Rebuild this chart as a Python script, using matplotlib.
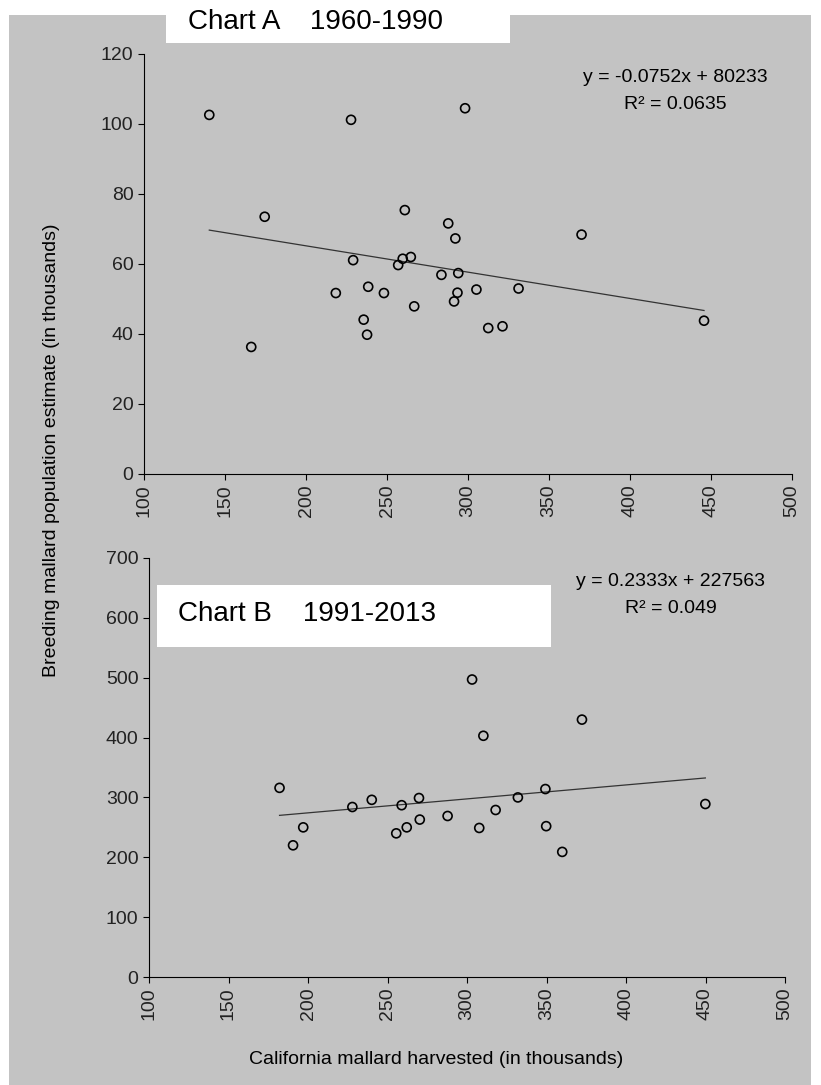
import numpy as np
import matplotlib
matplotlib.use('Agg')
import matplotlib.pyplot as plt
from matplotlib.patches import Rectangle

plt.rcParams['font.family'] = ['Liberation Sans', 'DejaVu Sans']

# Chart A 1960-1990 (thousands)
a_harvest = [140.3, 227.8, 298.2, 174.5, 261.0, 287.8, 292.2, 370.1, 229.1, 256.9,
             259.7, 264.7, 283.6, 294.0, 218.4, 238.4, 248.1, 266.8, 293.5, 291.4,
             305.2, 331.2, 235.6, 237.7, 166.2, 312.5, 321.3, 445.7]
a_breeding = [102.6, 101.2, 104.5, 73.5, 75.4, 71.6, 67.3, 68.4, 61.1, 59.7,
              61.5, 62.0, 56.9, 57.4, 51.7, 53.5, 51.7, 47.9, 51.8, 49.3,
              52.7, 53.0, 44.1, 39.8, 36.3, 41.7, 42.2, 43.8]
a_slope, a_icpt = -0.0752, 80.233

# Chart B 1991-2013 (thousands)
b_harvest = [182.1, 190.6, 197.0, 227.9, 240.1, 258.9, 255.5, 262.1, 269.8, 270.3,
             287.8, 303.2, 310.3, 307.7, 318.0, 332.0, 349.3, 349.8, 359.9, 372.3, 449.9]
b_breeding = [316, 220, 250, 284, 296, 287, 240, 250, 299, 263,
              269, 497, 403, 249, 279, 300, 314, 252, 209, 430, 289]
b_slope, b_icpt = 0.2333, 227.563

W, H = 821, 1085
fig = plt.figure(figsize=(W / 100, H / 100), dpi=100, facecolor='white')
bg = '#c3c3c3'
fig.patches.append(Rectangle((9 / W, 0), 802 / W, 1 - 15 / H, transform=fig.transFigure,
                             facecolor=bg, edgecolor='none', zorder=-5))


def panel(rect, xs, ys, slope, icpt, yticks, eq, r2):
    ax = fig.add_axes(rect)
    ax.patch.set_alpha(0)
    ax.scatter(xs, ys, s=42, facecolors='none', edgecolors='black', linewidths=1.2, zorder=3)
    xl = np.array([min(xs), max(xs)])
    ax.plot(xl, slope * xl + icpt, color='#333333', lw=0.9)
    ax.set_xlim(100, 500)
    ax.set_ylim(yticks[0], yticks[-1])
    ax.set_xticks(range(100, 501, 50))
    ax.set_yticks(yticks)
    ax.tick_params(axis='x', labelrotation=90, labelsize=14, length=4, labelcolor='#222222')
    ax.tick_params(axis='y', labelsize=14, length=4, labelcolor='#222222')
    for s in ['top', 'right']:
        ax.spines[s].set_visible(False)
    ax.text(0.82, 0.965, eq, transform=ax.transAxes, ha='center', va='top', fontsize=14)
    ax.text(0.82, 0.9, r2, transform=ax.transAxes, ha='center', va='top', fontsize=14)
    return ax


def rect(l, t, r, b):
    return [l / W, 1 - b / H, (r - l) / W, (b - t) / H]


axA = panel(rect(144, 54, 792, 474), a_harvest, a_breeding, a_slope, a_icpt,
            list(range(0, 121, 20)), 'y = -0.0752x + 80233', 'R² = 0.0635')
axB = panel(rect(149, 558, 785, 977), b_harvest, b_breeding, b_slope, b_icpt,
            list(range(0, 701, 100)), 'y = 0.2333x + 227563', 'R² = 0.049')

# title boxes
fig.patches.append(Rectangle((166 / W, 1 - 43 / H), 344 / W, 43 / H, transform=fig.transFigure,
                             facecolor='white', edgecolor='none', zorder=5))
fig.text(188 / W, 1 - 22 / H, 'Chart A    1960-1990', fontsize=20, va='center', zorder=6)
fig.patches.append(Rectangle((157 / W, 1 - 647 / H), 394 / W, 62 / H, transform=fig.transFigure,
                             facecolor='white', edgecolor='none', zorder=5))
fig.text(178 / W, 1 - 614 / H, 'Chart B    1991-2013', fontsize=20, va='center', zorder=6)

fig.text(52 / W, 1 - 450 / H, 'Breeding mallard population estimate (in thousands)',
         rotation=90, ha='center', va='center', fontsize=14)
fig.text(436 / W, 1 - 1060 / H, 'California mallard harvested (in thousands)',
         ha='center', va='center', fontsize=14)

fig.savefig('out.png', dpi=100, facecolor='white')
